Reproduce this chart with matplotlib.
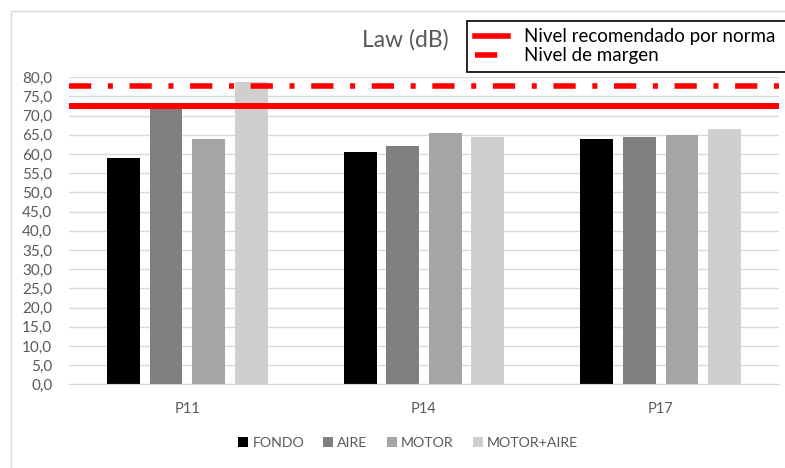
import matplotlib.pyplot as plt
import numpy as np
from matplotlib.patches import Patch, Rectangle
from matplotlib.lines import Line2D

plt.rcParams["font.family"] = ["Lato", "DejaVu Sans"]

# Measured levels per point and condition (dB)
points = ["P11", "P14", "P17"]
series = ["FONDO", "AIRE", "MOTOR", "MOTOR+AIRE"]
fondo = [59.1, 60.6, 63.9]
aire = [71.8, 62.0, 64.4]
motor = [63.8, 65.4, 65.0]
motor_aire = [78.9, 64.4, 66.4]

nivel_norma = 72.5
nivel_margen = 77.7

bar_colors = ["#000000", "#808080", "#A5A5A5", "#D0CECE"]
text_gray = "#595959"
grid_gray = "#D9D9D9"
dash_style = (0, (4, 3, 0.9, 3))

fig = plt.figure(figsize=(7.85, 4.68), dpi=100)

# light outer chart border
fig.patches.append(Rectangle((11 / 785, -0.1), 1.2, 1 - 11 / 468 + 0.1,
                             transform=fig.transFigure, fill=False,
                             edgecolor=grid_gray, linewidth=1))

ax = fig.add_axes([69 / 785, 1 - 384.3 / 468, 710 / 785, (384.3 - 77.3) / 468])

x = np.arange(len(points))
width = 0.139
step = 0.180
for i, (vals, name) in enumerate(zip([fondo, aire, motor, motor_aire], series)):
    ax.bar(x + (i - 1.5) * step, vals, width=width, color=bar_colors[i],
           label=name, zorder=2)

ax.axhline(nivel_norma, color="#FF0000", linewidth=4.3, zorder=3)
ax.axhline(nivel_margen, color="#FF0000", linewidth=4.0,
           linestyle=dash_style, zorder=3)

ax.set_xlim(-0.5, 2.5)
ax.set_ylim(0, 80)
ax.set_yticks(np.arange(0, 81, 5))
ax.set_yticklabels([f"{v:.1f}".replace(".", ",") for v in np.arange(0, 81, 5)])
ax.set_xticks(x)
ax.set_xticklabels(points)
ax.yaxis.grid(True, color=grid_gray, linewidth=1, zorder=0)
ax.set_axisbelow(True)
for s in ["top", "right", "left"]:
    ax.spines[s].set_visible(False)
ax.spines["bottom"].set_color(grid_gray)
ax.tick_params(axis="y", length=0, pad=12, labelsize=11, labelcolor=text_gray)
ax.tick_params(axis="x", length=0, pad=13, labelsize=10.5, labelcolor=text_gray)

fig.text(405 / 785, 1 - 40 / 468, "Law (dB)", ha="center", va="center",
         fontsize=16.5, color=text_gray)

# reference levels legend (box runs past the right edge)
ref_handles = [
    Line2D([], [], color="#FF0000", linewidth=4.0),
    Line2D([], [], color="#FF0000", linewidth=4.0, linestyle=dash_style),
]
leg = fig.legend(ref_handles, ["Nivel recomendado por norma    ", "Nivel de margen"],
                 loc="upper left", bbox_to_anchor=(467 / 785, 1 - 20.7 / 468),
                 fontsize=13.5, frameon=True, fancybox=False, framealpha=1,
                 edgecolor="black", handlelength=1.8, handletextpad=0.85,
                 labelspacing=0.1, borderpad=0.4, borderaxespad=0)
leg.get_frame().set_linewidth(1.2)

# series legend along the bottom
sq = [Patch(facecolor=c) for c in bar_colors]
fig.legend(sq, series, loc="center", bbox_to_anchor=(408 / 785, 1 - 443 / 468),
           ncol=4, frameon=False, fontsize=10.2, labelcolor=text_gray,
           handlelength=0.7, handleheight=0.7, handletextpad=0.3,
           columnspacing=1.35)

fig.savefig("out.png", dpi=100)
